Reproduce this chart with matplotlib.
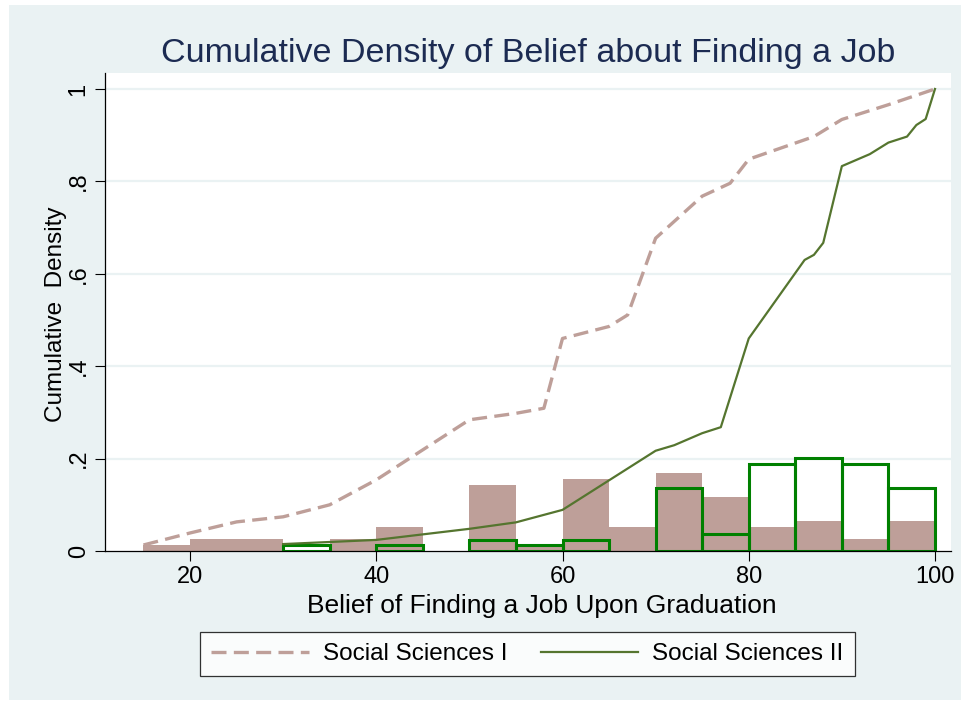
import matplotlib
matplotlib.use("Agg")
import matplotlib.pyplot as plt
from matplotlib.patches import Rectangle
from matplotlib.lines import Line2D

plt.rcParams['font.family'] = ['Liberation Sans', 'DejaVu Sans']

# Histogram bins (width 5)
bin_width = 5
bins_ss1 = [15, 20, 25, 30, 35, 40, 45, 50, 55, 60, 65, 70, 75, 80, 85, 90, 95]
frac_ss1 = [0.013, 0.026, 0.026, 0.0, 0.026, 0.052, 0.0, 0.143, 0.013,
            0.156, 0.052, 0.169, 0.117, 0.052, 0.065, 0.026, 0.065]
bins_ss2 = [30, 35, 40, 45, 50, 55, 60, 65, 70, 75, 80, 85, 90, 95]
frac_ss2 = [0.012, 0.0, 0.012, 0.0, 0.024, 0.012, 0.024, 0.0,
            0.137, 0.036, 0.189, 0.202, 0.189, 0.137]

# Cumulative distributions
cdf_ss1_x = [15, 20, 25, 30, 35, 40, 50, 55, 58, 60, 65, 67, 70, 75, 78, 80, 87, 90, 95, 100]
cdf_ss1_y = [0.013, 0.039, 0.063, 0.074, 0.100, 0.154, 0.284, 0.298, 0.309, 0.460,
             0.486, 0.511, 0.677, 0.768, 0.796, 0.848, 0.897, 0.934, 0.966, 1.0]
cdf_ss2_x = [30, 40, 50, 55, 60, 70, 72, 75, 77, 80, 86, 87, 88, 90, 93, 95, 97, 98, 99, 100]
cdf_ss2_y = [0.015, 0.024, 0.048, 0.062, 0.089, 0.217, 0.229, 0.255, 0.268, 0.460,
             0.630, 0.641, 0.667, 0.833, 0.859, 0.884, 0.897, 0.922, 0.935, 1.0]

xticks = [20, 40, 60, 80, 100]
yticks = [0, 0.2, 0.4, 0.6, 0.8, 1.0]
ytick_labels = ['0', '.2', '.4', '.6', '.8', '1']

rose = '#BE9F99'
green_bar = '#008000'
green_line = '#55752F'
bg = '#EAF2F3'
title_col = '#1C2B52'

W, H = 969, 707
fig = plt.figure(figsize=(W / 100, H / 100), dpi=100)
fig.patch.set_facecolor('white')
fig.add_artist(Rectangle((9 / W, 1 - 700 / H), (961 - 9) / W, (700 - 5) / H,
                         transform=fig.transFigure, facecolor=bg,
                         edgecolor='none', zorder=-10))

ax = fig.add_axes([105 / W, 1 - 551 / H, (951 - 105) / W, (551 - 73) / H])
ax.set_facecolor('white')
ax.set_xlim(10.87, 101.72)
ax.set_ylim(0, 1.0346)

for yv in yticks[1:]:
    ax.axhline(yv, color=bg, lw=1.6, zorder=0)

# empty bins are not drawn
ss1_pairs = [(b, f) for b, f in zip(bins_ss1, frac_ss1) if f > 0]
ss2_pairs = [(b, f) for b, f in zip(bins_ss2, frac_ss2) if f > 0]
ax.bar([p[0] for p in ss1_pairs], [p[1] for p in ss1_pairs], width=bin_width,
       align='edge', color=rose, linewidth=0, zorder=2)
ax.bar([p[0] for p in ss2_pairs], [p[1] for p in ss2_pairs], width=bin_width,
       align='edge', fill=False, edgecolor=green_bar, linewidth=2.2, zorder=3)

ax.plot(cdf_ss1_x, cdf_ss1_y, color=rose, lw=2.4, dashes=(4.5, 2.2),
        zorder=4, solid_joinstyle='miter')
ax.plot(cdf_ss2_x, cdf_ss2_y, color=green_line, lw=1.6, zorder=4)

for s in ['top', 'right']:
    ax.spines[s].set_visible(False)
for s in ['left', 'bottom']:
    ax.spines[s].set_linewidth(0.9)
    ax.spines[s].set_color('black')
    ax.spines[s].set_zorder(5)

ax.set_xticks(xticks)
ax.set_xticklabels([str(v) for v in xticks])
ax.set_yticks(yticks)
ax.set_yticklabels(ytick_labels, rotation=90, va='center')
ax.tick_params(axis='both', length=7, width=0.8, color='black',
               labelsize=17, pad=4)

fig.text(528 / W, 1 - 62 / H, 'Cumulative Density of Belief about Finding a Job',
         ha='center', va='baseline', fontsize=24.5, color=title_col)
fig.text(542 / W, 1 - 613 / H, 'Belief of Finding a Job Upon Graduation',
         ha='center', va='baseline', fontsize=19, color='black')
fig.text(62 / W, 1 - 314 / H, 'Cumulative  Density', rotation=90,
         rotation_mode='anchor', ha='center', va='baseline', fontsize=17.5,
         color='black')

handles = [Line2D([], [], color=rose, lw=2.4, dashes=(4.5, 2.2)),
           Line2D([], [], color=green_line, lw=1.6)]
leg = fig.legend(handles, ['Social Sciences I', 'Social Sciences II'],
                 loc='center', bbox_to_anchor=(527.5 / W, 1 - 654 / H),
                 ncol=2, fontsize=17.5, frameon=True, fancybox=False,
                 borderpad=0.45, handlelength=4.0, handletextpad=0.6,
                 columnspacing=1.35, borderaxespad=0)
leg.get_frame().set_edgecolor('black')
leg.get_frame().set_linewidth(0.9)
leg.get_frame().set_facecolor('white')

fig.savefig('out.png', dpi=100, facecolor=fig.get_facecolor())
